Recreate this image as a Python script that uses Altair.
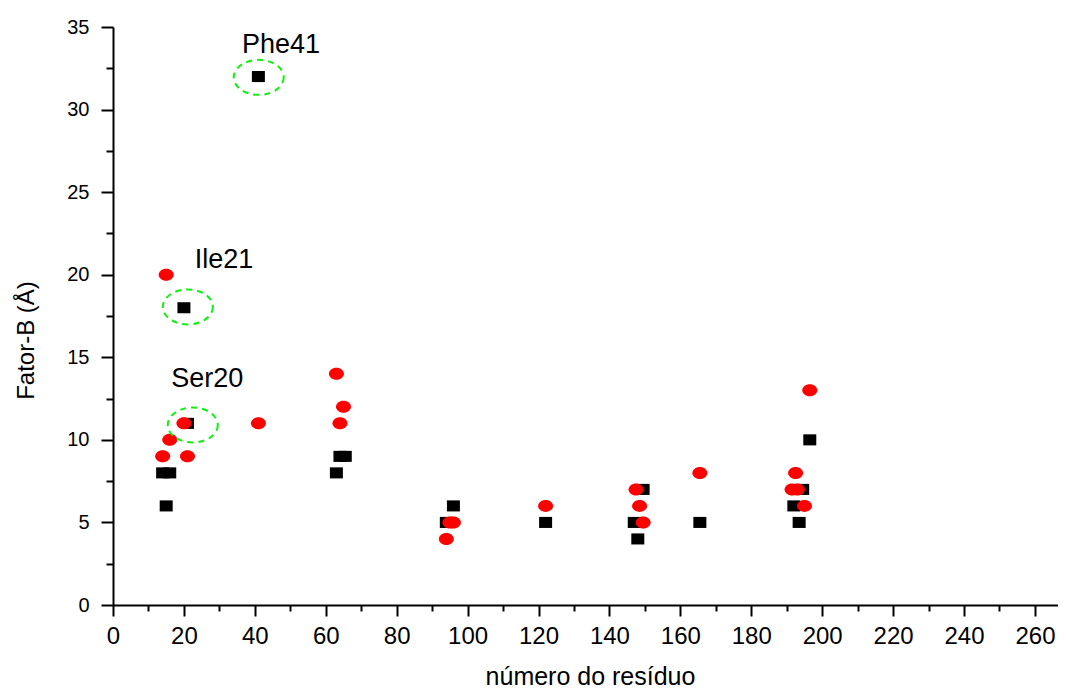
import altair as alt
import pandas as pd

# Black squares (série 1)
sq_x = [14, 16, 15, 20, 21, 41, 63, 64, 65.5, 94, 96, 122, 147, 148, 149.5, 165.5, 192, 193.5, 194.5, 196.5]
sq_y = [8, 8, 6, 18, 11, 32, 8, 9, 9, 5, 6, 5, 5, 4, 7, 5, 6, 5, 7, 10]

# Red circles (série 2)
ci_x = [15, 14, 16, 20, 21, 41, 63, 64, 65, 94, 95, 96, 122, 147.5, 148.5, 149.5, 165.5, 191.5, 193, 192.5, 195, 196.5]
ci_y = [20, 9, 10, 11, 9, 11, 14, 11, 12, 4, 5, 5, 6, 7, 6, 5, 8, 7, 7, 8, 6, 13]

# Highlighted residues (dashed green ellipses)
hl_x = [21.1, 22.5, 41.1]
hl_y = [18.05, 10.9, 31.95]

# Annotation labels
lab_text = ["Ile21", "Ser20", "Phe41"]
lab_x = [31.3, 26.6, 47.4]
lab_y = [20.41, 13.2, 33.43]

x_major_ticks = list(range(0, 261, 20))
x_minor_ticks = list(range(10, 261, 20))
y_major_ticks = list(range(0, 36, 5))
y_minor_ticks = [2.5 + 5 * i for i in range(7)]

FONT = "Liberation Sans, Arial, Helvetica, sans-serif"

df_sq = pd.DataFrame({"res": sq_x, "b": sq_y})
df_ci = pd.DataFrame({"res": ci_x, "b": ci_y})
df_hl = pd.DataFrame({"res": hl_x, "b": hl_y})
df_lab = pd.DataFrame({"res": lab_x, "b": lab_y, "t": lab_text})

xscale = alt.Scale(domain=[0, 266.5], nice=False, zero=False)
yscale = alt.Scale(domain=[0, 35], nice=False, zero=False)

x_major = alt.Axis(
    orient="bottom", values=x_major_ticks, format="d", grid=False,
    title="número do resíduo", titleFont=FONT, titleFontSize=25, titleFontWeight="normal",
    titleColor="black", titleX=477, titleY=79, titleBaseline="alphabetic",
    labelFont=FONT, labelFontSize=24, labelColor="black", labelPadding=8,
    labelFlush=False, labelOverlap=False, labelBound=False,
    tickSize=11, tickWidth=2, tickColor="black",
    domainColor="black", domainWidth=2,
)
y_major = alt.Axis(
    orient="left", values=y_major_ticks, format="d", grid=False,
    title="Fator-B (Å)", titleFont=FONT, titleFontSize=24, titleFontWeight="normal",
    titleColor="black", titleX=-75, titleY=313,
    labelFont=FONT, labelFontSize=20, labelColor="black", labelPadding=12,
    labelFlush=False, labelOverlap=False, labelBound=False,
    tickSize=12, tickWidth=2, tickColor="black",
    domainColor="black", domainWidth=2,
)
x_minor = alt.Axis(
    orient="bottom", values=x_minor_ticks, labels=False, domain=False, grid=False,
    title=None, tickSize=6, tickWidth=2, tickColor="black",
)
y_minor = alt.Axis(
    orient="left", values=y_minor_ticks, labels=False, domain=False, grid=False,
    title=None, tickSize=7, tickWidth=2, tickColor="black",
)

SQUARE = "M-1,-0.85H1V0.85H-1Z"
OVAL = ("M1,0C1,0.4418 0.5523,0.8 0,0.8C-0.5523,0.8 -1,0.4418 -1,0"
        "C-1,-0.4418 -0.5523,-0.8 0,-0.8C0.5523,-0.8 1,-0.4418 1,0Z")
RING = ("M1,0C1,0.3866 0.5523,0.7 0,0.7C-0.5523,0.7 -1,0.3866 -1,0"
        "C-1,-0.3866 -0.5523,-0.7 0,-0.7C0.5523,-0.7 1,-0.3866 1,0Z")

squares = alt.Chart(df_sq).mark_point(
    shape=SQUARE, size=169, filled=True, color="black", opacity=1, strokeWidth=0
).encode(
    x=alt.X("res:Q", scale=xscale, axis=x_major),
    y=alt.Y("b:Q", scale=yscale, axis=y_major),
)

circles = alt.Chart(df_ci).mark_point(
    shape=OVAL, size=225, filled=True, color="#ff0000", opacity=1, strokeWidth=0
).encode(
    x=alt.X("res:Q", scale=xscale, axis=x_minor),
    y=alt.Y("b:Q", scale=yscale, axis=y_minor),
)

rings = alt.Chart(df_hl).mark_point(
    shape=RING, size=2500, filled=False, stroke="#11ee11", strokeWidth=2,
    strokeDash=[6, 5], opacity=1
).encode(
    x=alt.X("res:Q", scale=xscale, axis=None),
    y=alt.Y("b:Q", scale=yscale, axis=None),
)

labels = alt.Chart(df_lab).mark_text(
    font=FONT, fontSize=27, color="black", align="center", baseline="alphabetic"
).encode(
    x=alt.X("res:Q", scale=xscale, axis=None),
    y=alt.Y("b:Q", scale=yscale, axis=None),
    text="t:N",
)

chart = alt.layer(squares, circles, rings, labels).resolve_axis(
    x="independent", y="independent"
).properties(
    width=945, height=578,
    padding={"left": 105, "top": 19, "right": 0, "bottom": 85},
    autosize=alt.AutoSizeParams(type="none"),
    background="white",
).configure_view(stroke=None)

chart.save("out.html", embed_options={"renderer": "svg", "actions": False})
